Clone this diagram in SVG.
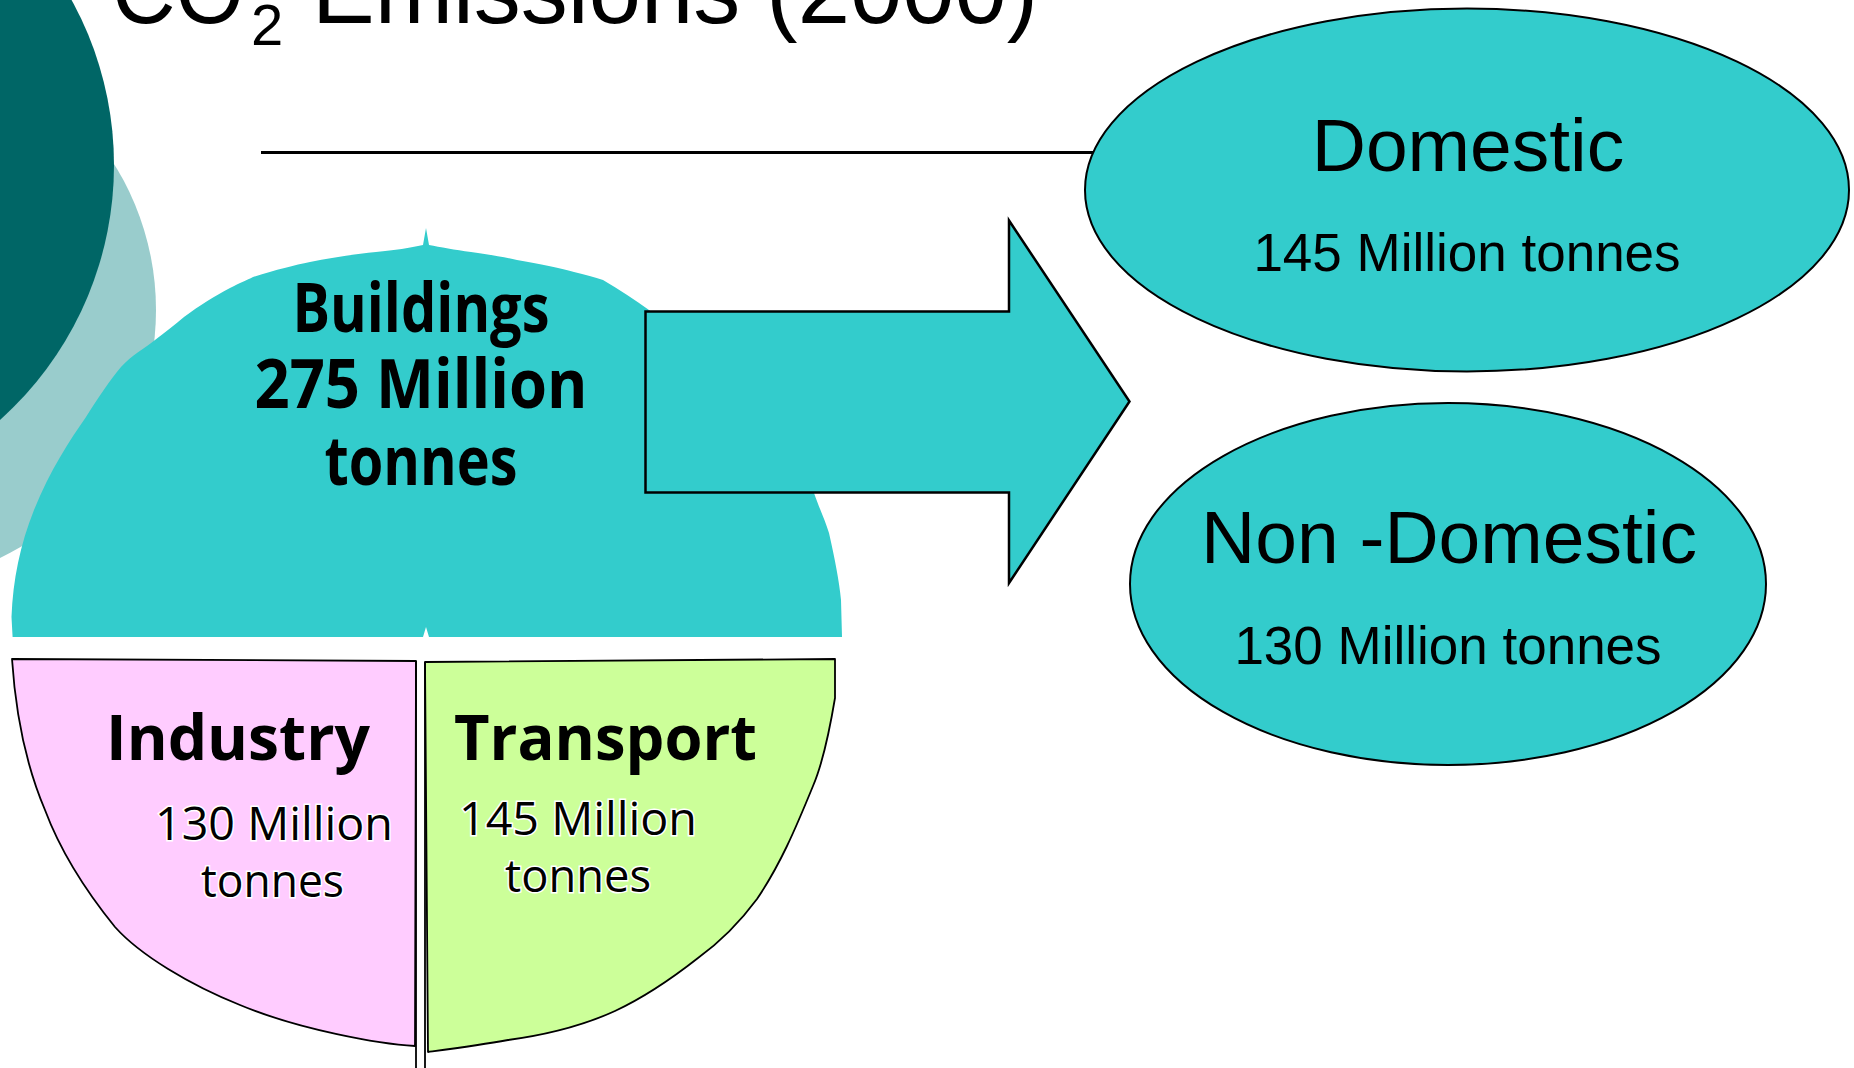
<svg xmlns="http://www.w3.org/2000/svg" width="1854" height="1068" viewBox="0 0 1854 1068">
<style>
.ttl{font-family:"Liberation Sans",Arial,sans-serif;fill:#000}
.ell{fill:#33CCCC;stroke:#000;stroke-width:2}
.lbl{font-family:"Liberation Sans",Arial,sans-serif;fill:#000;text-anchor:middle}
.cb{font-family:"Open Sans","DejaVu Sans",sans-serif;font-weight:bold;fill:#000}
.cr{font-family:"Open Sans","DejaVu Sans",sans-serif;fill:#000;stroke:#fff;stroke-width:3;paint-order:stroke}
.seg{stroke:#000;stroke-width:1.8;stroke-linejoin:round}
</style>
<rect width="1854" height="1068" fill="#fff"/>
<g id="background">
<circle cx="-119" cy="310" r="275" fill="#99CCCC"/>
<circle cx="-228" cy="165" r="342" fill="#006666"/>
</g>
<g id="title">
<text class="ttl" x="112" y="23" font-size="92" textLength="132" lengthAdjust="spacingAndGlyphs">CO</text>
<text class="ttl" x="251" y="45" font-size="58">2</text>
<text class="ttl" x="312" y="23" font-size="94" textLength="726" lengthAdjust="spacingAndGlyphs">Emissions (2000)</text>
<line x1="261" y1="152.5" x2="1095" y2="152.5" stroke="#000" stroke-width="3"/>
</g>
<g id="buildings">
<path fill="#33CCCC" d="M426,228 L429,245 C440,247 455,250 471,252 C490,255 505,257 517,260 C540,264 560,268 574,272 C585,275 595,277 603,280 C620,290 635,300 649,310 C700,350 760,410 800,460 C808,475 812,485 814,493 C820,510 825,520 829,533 C835,560 839,580 841,600 L842,637 L429,637 L426,627 L423,637 L12.6,637 L11.5,617 C13,580 20,545 34,510 C50,470 70,440 86,417 C100,395 110,380 121,367 C132,355 145,348 155,340 C165,332 175,325 184,317 C200,305 215,296 230,288 C240,283 247,280 253,277 C275,270 295,265 310,262 C330,258 355,254 376,252 C395,250 410,248 423,245 Z"/>
<text class="cb" x="421" y="332" font-size="68" text-anchor="middle" textLength="257" lengthAdjust="spacingAndGlyphs">Buildings</text>
<text class="cb" x="421" y="408" font-size="68" text-anchor="middle" textLength="333" lengthAdjust="spacingAndGlyphs">275 Million</text>
<text class="cb" x="421" y="485" font-size="68" text-anchor="middle" textLength="193" lengthAdjust="spacingAndGlyphs">tonnes</text>
</g>
<g id="industry">
<path class="seg" fill="#FFCCFF" d="M12,659 L416,661 L415,1046 C380,1044 300,1030 240,1005 C190,985 140,955 115,927 C85,890 60,850 45,810 C28,770 16,720 12,659 Z"/>
<text class="cb" x="106" y="760" font-size="63" textLength="264" lengthAdjust="spacingAndGlyphs">Industry</text>
<text class="cr" x="155" y="840" font-size="46" textLength="238" lengthAdjust="spacingAndGlyphs">130 Million</text>
<text class="cr" x="201" y="897" font-size="46" textLength="143" lengthAdjust="spacingAndGlyphs">tonnes</text>
</g>
<g id="transport">
<path class="seg" fill="#CCFF99" d="M425,662 L835,659 L835,698 C828,740 822,765 813,786 C795,830 780,865 757,899 C740,922 720,942 698,958 C670,980 645,997 615,1011 C580,1027 545,1035 508,1040 C480,1045 450,1049 428,1052 Z"/>
<text class="cb" x="454" y="760" font-size="63" textLength="303" lengthAdjust="spacingAndGlyphs">Transport</text>
<text class="cr" x="459" y="835" font-size="46" textLength="238" lengthAdjust="spacingAndGlyphs">145 Million</text>
<text class="cr" x="505" y="892" font-size="46" textLength="146" lengthAdjust="spacingAndGlyphs">tonnes</text>
</g>
<g id="dividers" stroke="#000" stroke-width="1.8">
<line x1="416" y1="661" x2="416" y2="1068"/>
<line x1="425" y1="662" x2="425" y2="1068"/>
</g>
<g id="connectors">
<path fill="#33CCCC" stroke="#000" stroke-width="2.5" stroke-linejoin="miter" d="M645.5,311.5 L1009,311.5 L1009,220.5 L1129.5,401.5 L1009,583 L1009,492.5 L645.5,492.5 Z"/>
</g>
<g id="domestic">
<ellipse class="ell" cx="1467" cy="190" rx="382" ry="181.5"/>
<text class="lbl" x="1468" y="171" font-size="75">Domestic</text>
<text class="lbl" x="1467" y="271" font-size="53">145 Million tonnes</text>
</g>
<g id="non-domestic">
<ellipse class="ell" cx="1448" cy="584" rx="318" ry="181"/>
<text class="lbl" x="1449" y="563" font-size="75">Non -Domestic</text>
<text class="lbl" x="1448" y="664" font-size="53">130 Million tonnes</text>
</g>
</svg>
